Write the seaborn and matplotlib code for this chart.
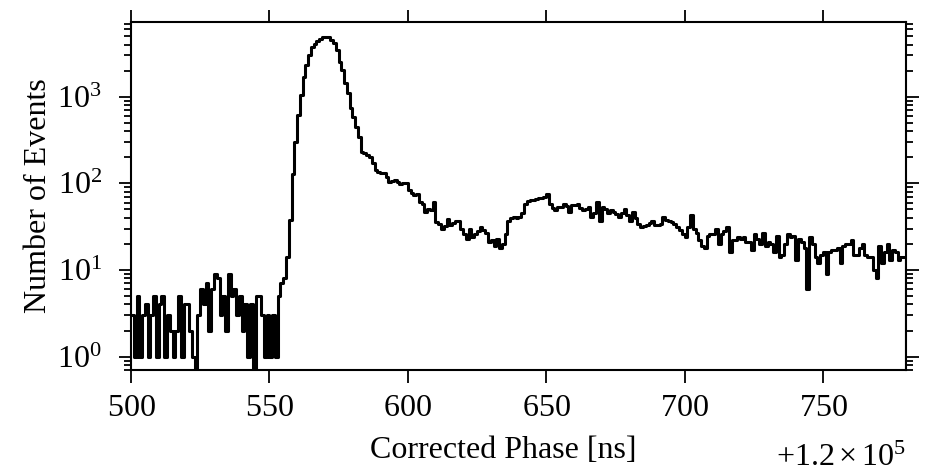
import numpy as np
import pandas as pd
import matplotlib
matplotlib.use("Agg")
import matplotlib.pyplot as plt
import seaborn as sns
from matplotlib.ticker import LogLocator, MultipleLocator, NullFormatter, ScalarFormatter

# Phase axis: 1 ns bins, shown relative to an offset of 1.2e5 ns
phase_offset = 120000
first_bin = 500
bin_width = 1

# Event counts per bin
counts_noise = [  # 500-555
    3, 1, 5, 1, 3, 4, 1, 3, 5, 1,
    4, 5, 1, 3, 2, 1, 2, 5, 1, 4,
    4, 2, 1, 0, 3, 6, 4, 7, 2, 6,
    9, 8, 3, 5, 2, 9, 5, 6, 3, 5,
    2, 4, 1, 4, 0, 5, 5, 3, 1, 3,
    1, 3, 1, 5, 7, 8,
]
counts_peak = [  # 556-599
    14, 38, 130, 300, 610, 1050, 1700, 2320, 3020, 3780,
    4100, 4430, 4650, 4850, 4950, 4850, 4500, 4140, 3460, 2540,
    2030, 1430, 1100, 735, 588, 451, 345, 232, 222, 210,
    203, 170, 142, 136, 133, 131, 119, 104, 106, 108,
    104, 98, 100, 100,
]
counts_tail1 = [  # 600-654
    84, 78, 73, 76, 61, 58, 47, 50, 49, 61,
    36, 34, 30, 32, 39, 33, 35, 37, 37, 30,
    26, 23, 30, 24, 26, 28, 31, 29, 27, 21,
    22, 19, 23, 18, 20, 26, 37, 40, 41, 40,
    41, 45, 58, 62, 64, 64, 66, 67, 68, 70,
    76, 58, 52, 49, 53,
]
counts_tail2 = [  # 655-717
    53, 58, 55, 47, 56, 57, 58, 52, 49, 51,
    53, 41, 46, 61, 37, 53, 50, 45, 49, 47,
    44, 41, 46, 51, 43, 37, 47, 40, 34, 31,
    32, 33, 35, 37, 33, 33, 34, 41, 38, 37,
    36, 34, 31, 29, 26, 24, 31, 43, 30, 27,
    22, 19, 18, 25, 26, 26, 30, 20, 26, 28,
    31, 16, 22,
]
counts_tail3 = [  # 718-779
    22, 24, 23, 24, 21, 21, 17, 26, 23, 20,
    27, 19, 21, 20, 16, 25, 14, 15, 20, 26,
    24, 25, 13, 23, 21, 18, 6, 24, 20, 14,
    12, 15, 16, 9, 16, 17, 17, 18, 12, 19,
    20, 20, 22, 15, 15, 18, 20, 15, 14, 14,
    10, 8, 19, 12, 16, 20, 13, 17, 16, 13, 14, 14,
]
counts_overflow = [0]  # empty bin past the window, gives the closing drop

counts = counts_noise + counts_peak + counts_tail1 + counts_tail2 + counts_tail3 + counts_overflow
edges = phase_offset + first_bin + bin_width * np.arange(len(counts) + 1)
df = pd.DataFrame({"phase": edges[:-1] + bin_width / 2, "events": counts})

sns.set_style("ticks")
plt.rcParams["font.family"] = ["Liberation Serif", "DejaVu Serif"]
plt.rcParams["mathtext.fontset"] = "stix"
plt.rcParams["font.size"] = 23
plt.rcParams["text.color"] = "black"
plt.rcParams["axes.labelcolor"] = "black"
plt.rcParams["axes.edgecolor"] = "black"
plt.rcParams["xtick.color"] = "black"
plt.rcParams["ytick.color"] = "black"
plt.rcParams["axes.linewidth"] = 1.5

fig = plt.figure(figsize=(9.27, 4.74), dpi=100)
ax = fig.add_axes([0.1413, 0.2194, 0.836, 0.7342])

sns.histplot(data=df, x="phase", weights="events", bins=edges.tolist(),
             element="step", fill=False, color="black", linewidth=2.2, ax=ax)

ax.set_yscale("log")
ax.set_xlim(phase_offset + 500, phase_offset + 780)
ax.set_ylim(0.7, 7300)

ax.xaxis.set_major_locator(MultipleLocator(50))
fmt = ScalarFormatter(useMathText=True, useOffset=phase_offset)
ax.xaxis.set_major_formatter(fmt)
ax.yaxis.set_major_locator(LogLocator(base=10, numticks=10))
ax.yaxis.set_minor_locator(LogLocator(base=10, subs=np.arange(2, 10), numticks=20))
ax.yaxis.set_minor_formatter(NullFormatter())

ax.tick_params(which="both", direction="out", top=True, right=True, width=1.3, labelsize=23)
ax.tick_params(which="major", length=9)
ax.tick_params(which="minor", length=5)
ax.tick_params(axis="x", pad=8)
ax.tick_params(axis="y", pad=12)

ax.set_xlabel("Corrected Phase [ns]", fontsize=23)
ax.set_ylabel("Number of Events", fontsize=23)
ax.xaxis.set_label_coords(0.48, -0.19)
ax.yaxis.set_label_coords(-0.1, 0.5)

# push the "+1.2x10^5" offset text down below the axis label line
ax.xaxis.OFFSETTEXTPAD = 15
ax.xaxis.get_offset_text().set_fontsize(23)

fig.savefig("out.png", dpi=100)
